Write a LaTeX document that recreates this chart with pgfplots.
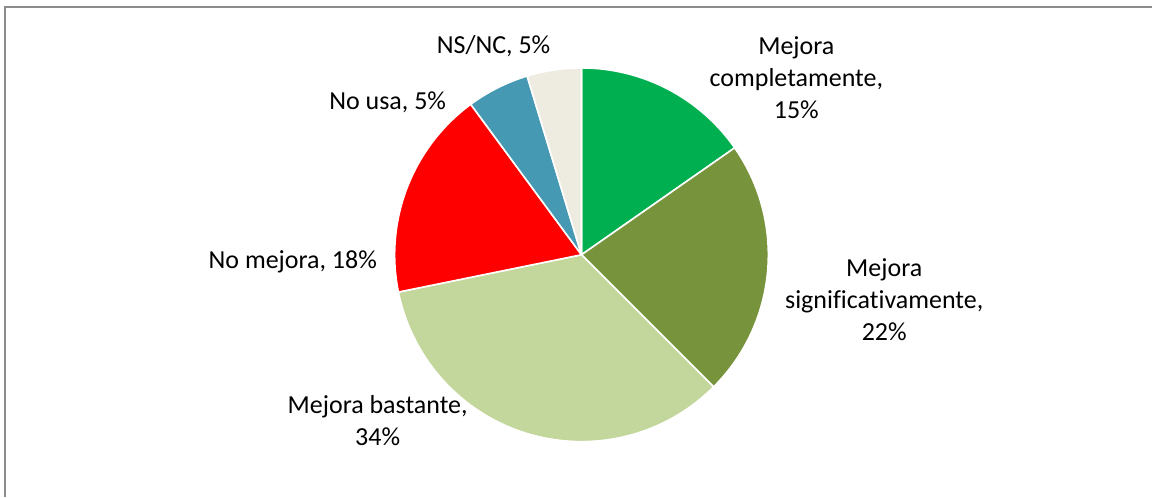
\documentclass[border=0pt]{standalone}
\usepackage{pgfplots}
\pgfplotsset{compat=1.18}
\usepackage{fontspec}
\setmainfont[Ligatures={CommonOff,RareOff}]{Carlito}
\definecolor{cA}{HTML}{00B050}
\definecolor{cB}{HTML}{77933C}
\definecolor{cC}{HTML}{C3D69B}
\definecolor{cD}{HTML}{FF0000}
\definecolor{cE}{HTML}{4699B2}
\definecolor{cF}{HTML}{EEECE1}
\definecolor{frame}{HTML}{8C8C8C}
% slice: start (cumulative %), value (%), colour
\newcommand\pieslice[3]{%
  \pgfmathsetmacro\sA{90-3.6*#1}%
  \pgfmathsetmacro\sB{90-3.6*(#1+#2)}%
  \edef\tmp{\noexpand\fill[#3, draw=white, line width=1.2pt, line join=round]
    (axis cs:582,242) -- ++(\sA:140.25pt) arc[start angle=\sA, end angle=\sB, radius=140.25pt] -- cycle;}%
  \tmp}
\begin{document}
\begin{tikzpicture}
\begin{axis}[scale only axis, width=864.75pt, height=372.75pt,
  xmin=0, xmax=1153, ymin=0, ymax=497, hide axis, clip=false]
\path (axis cs:0,0) rectangle (axis cs:1153,497);
\draw[frame, line width=1.5pt] (axis cs:5.5,0) -- (axis cs:5.5,489.5) -- (axis cs:1153,489.5);
% values (%): 15.3, 22.2, 34.3, 18.1, 5.4, 4.7
\pieslice{0}{15.3}{cA}
\pieslice{15.3}{22.2}{cB}
\pieslice{37.5}{34.3}{cC}
\pieslice{71.8}{18.1}{cD}
\pieslice{89.9}{5.4}{cE}
\pieslice{95.3}{4.7}{cF}
\begin{scope}[every node/.style={align=center, inner sep=0pt, font=\fontsize{19.5}{24}\selectfont}]
\node at (axis cs:797,419) {Mejora\\completamente,\\15\%};
\node at (axis cs:885,197) {Mejora\\significativamente,\\22\%};
\node at (axis cs:378,76) {Mejora bastante,\\34\%};
\node at (axis cs:293,235) {No mejora, 18\%};
\node at (axis cs:388,395) {No usa, 5\%};
\node at (axis cs:494,451) {NS/NC, 5\%};
\end{scope}
\end{axis}
\end{tikzpicture}
\end{document}
